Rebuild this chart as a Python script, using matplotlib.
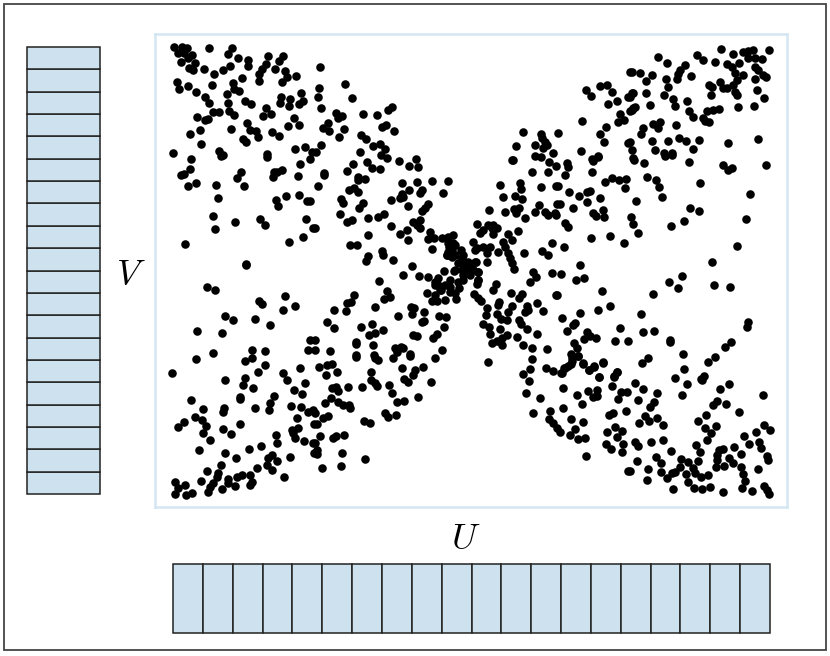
import matplotlib
matplotlib.use('Agg')
import matplotlib.pyplot as plt
from matplotlib.patches import Rectangle
import numpy as np

plt.rcParams['mathtext.fontset'] = 'cm'

# points read patch by patch off the picture, at 3x, each with its own origin
top_left = [(58,36),(80,36),(97,38),(68,55),(88,55),(110,60),(78,80),(100,70),(120,85),(102,100),(115,105),(147,101),(163,39),(232,39),(220,57),(249,69),(278,76),(280,92),(226,92),(205,104),(178,118),(260,129),(339,63),(384,64),(372,78),(333,88),(320,102),(360,102),(391,108),(313,118),(311,138),(423,122),(395,127),(381,141),(66,142),(73,163),(100,153),(124,171),(170,150),(233,145),(238,163),(252,168),(215,177),(149,185),(161,203),(219,203),(270,197),(289,207),(378,186),(405,191),(439,175),(375,205),(403,212),(433,208),(445,198),(175,232),(193,232),(221,229),(238,240),(332,220),(348,238),(323,243),(127,247),(150,255),(160,253),(416,248),(277,263),(400,273),(431,271),(134,285),(105,297),(229,281),(285,285),(304,288),(308,305),(352,291),(372,304),(264,313),(272,321),(138,328),(54,353),(193,349),(205,360),(336,358),(419,341),(450,337),(470,350)]
top_mid_left = [(90,27),(11,39),(8,66),(111,68),(19,100),(63,113),(80,123),(70,130),(145,116),(185,121),(230,95),(220,105),(40,145),(25,158),(43,167),(88,163),(72,187),(200,156),(214,150),(237,169),(138,181),(153,191),(18,211),(2,232),(174,214),(195,208),(210,222),(135,230),(198,240),(217,249),(251,257),(302,252),(157,261),(115,268),(283,272),(309,275),(170,280),(196,283),(97,288),(28,295),(28,300),(130,305),(150,312),(130,315),(10,333),(260,325),(305,320),(351,319),(398,317),(102,344),(118,338),(128,350),(282,344),(322,345),(316,355),(262,358),(383,354)]
mid_left = [(107,11),(199,3),(335,5),(435,26),(466,12),(104,41),(78,59),(86,57),(258,50),(245,68),(380,44),(367,52),(358,52),(354,65),(428,64),(98,92),(122,85),(184,90),(268,92),(188,130),(392,124),(364,135),(369,153),(431,119),(456,137),(465,138),(174,182),(240,201),(315,193),(330,210),(453,191),(475,219),(179,223),(444,246),(401,261),(91,267),(274,328)]
centre = [(78,12),(83,24),(227,14),(255,8),(265,6),(143,25),(132,38),(280,34),(340,28),(330,38),(320,48),(74,57),(160,68),(190,66),(208,57),(110,76),(96,82),(522,46),(569,50),(598,42),(612,40),(603,55),(631,70),(660,50),(690,52),(700,60),(720,55),(672,30),(600,2),(621,12),(228,93),(295,82),(315,75),(305,90),(314,98),(275,104),(254,116),(278,136),(158,120),(106,150),(126,150),(486,87),(535,90),(520,90),(505,105),(530,100),(545,100),(495,115),(535,118),(608,108),(344,110),(340,132),(357,130),(380,130),(398,125),(413,120),(413,145),(473,140),(578,118),(590,135),(565,140),(505,155),(485,160),(525,155),(570,155),(550,170),(403,155),(352,163),(400,172),(395,180),(410,185),(438,165),(445,180),(480,165),(515,175),(628,175),(682,167),(700,180),(710,143),(160,182),(153,197),(202,167),(205,180),(233,196),(580,175),(585,190),(590,205),(598,222),(515,200),(435,200),(480,200),(450,210),(440,225),(460,225),(475,225),(490,230),(291,212),(265,240),(312,244),(340,245),(370,248),(387,228),(417,228),(655,232),(662,246),(645,262),(710,234),(192,258),(360,262),(370,270),(378,285),(445,255),(430,260),(405,275),(432,280),(420,295),(490,255),(485,268),(543,268),(533,285),(216,287),(225,305),(206,312),(335,293),(360,300),(350,318),(365,318),(390,315),(423,312),(405,290),(117,300),(108,322),(95,325),(92,348),(56,344),(476,298),(490,310),(498,318),(588,294),(620,296),(612,310),(722,300),(553,320),(550,330),(590,332),(637,332),(667,324),(630,350),(640,345),(685,348),(180,336),(288,335),(297,340),(290,358),(328,352),(248,364),(372,363),(393,367),(516,340),(512,360),(545,358),(580,352),(558,372),(575,375),(612,376),(618,388),(36,382),(58,400),(172,387),(138,396),(328,378),(320,380),(388,395),(505,388),(522,395),(555,403),(635,402),(203,406),(180,413),(163,420),(665,416),(525,417),(295,421),(305,424),(365,418),(355,430),(606,427),(122,440),(122,447),(175,450),(575,420),(560,430),(545,437),(530,445),(560,450),(625,450),(650,460),(695,463),(258,455),(240,460),(245,470),(265,460),(46,467),(380,465),(122,480),(285,478),(176,480),(0,435),(0,465),(0,98)]
top_mid_right = [(466,95),(332,150),(348,168),(376,138),(397,135),(412,155),(425,183),(400,191),(470,158),(460,170),(475,205),(465,212),(434,222),(448,240),(430,245),(320,242),(393,260),(375,282),(143,276),(197,281),(248,278),(200,295),(210,305),(388,306),(460,308),(124,319),(180,315),(215,315),(205,325),(235,340),(318,332),(470,330),(370,348),(180,348),(198,352),(350,358),(115,360),(475,355)]
top_right = [(272,43),(308,58),(338,50),(355,47),(370,45),(416,46),(200,59),(220,75),(255,80),(84,66),(111,84),(165,89),(290,87),(327,85),(355,70),(375,70),(395,73),(375,95),(305,97),(150,105),(143,118),(385,105),(5,110),(30,113),(65,120),(48,137),(182,124),(107,133),(140,132),(315,115),(338,120),(400,120),(408,127),(375,132),(320,135),(270,140),(113,156),(237,150),(245,155),(310,150),(290,160),(280,160),(382,165),(8,175),(47,173),(102,179),(315,170),(320,180),(243,180),(0,185),(130,193),(172,197),(401,190),(135,213),(60,210),(15,217),(5,225),(324,216),(371,214),(268,222),(250,225),(230,228),(178,227),(188,245),(220,250),(225,258),(238,262),(90,260),(70,267),(85,278),(138,269),(40,278),(32,298),(65,318),(148,309),(167,317),(115,319),(208,315),(295,325),(383,312),(0,322),(75,345),(190,342),(103,355),(125,355)]
mid_right = [(35,25),(38,37),(3,33),(115,17),(130,5),(237,14),(268,24),(402,22),(330,2),(350,0),(505,31),(518,45),(530,38),(633,29),(112,52),(150,82),(170,70),(193,74),(214,71),(277,67),(304,76),(313,96),(434,83),(10,92),(42,110),(72,122),(97,112),(105,108),(210,100),(135,128),(321,125),(585,117),(97,142),(243,139),(5,148),(15,146),(53,160),(143,164),(115,175),(122,184),(146,185),(405,159),(431,168),(3,180),(228,187),(235,207),(572,193),(388,199),(348,214),(30,205),(38,216),(250,235),(164,244),(107,250),(207,265),(547,272),(28,277),(472,322),(74,330),(17,356),(64,374),(87,369),(382,362),(342,380),(476,390),(368,400),(526,397),(141,408),(293,416),(7,421),(128,464),(166,452),(259,477),(76,475),(22,490),(60,505),(55,510),(579,500),(575,515),(37,528),(196,520),(265,530),(296,527),(95,530),(105,543),(122,550),(88,552),(181,558),(218,557),(345,555),(344,562),(528,562),(511,577),(58,565),(66,580),(48,598),(70,602),(385,596),(481,607),(459,622),(278,610),(260,624),(85,626),(50,618),(40,632),(28,640),(118,633),(102,644),(144,623),(185,650),(177,663),(386,643),(18,655),(132,665),(361,668),(448,662),(438,672)]
bottom_mid = [(122,5),(180,8),(188,15),(235,8),(285,3),(360,10),(520,20),(650,13),(770,8),(790,3),(13,37),(35,30),(52,27),(65,52),(33,60),(167,50),(262,40),(300,45),(295,60),(325,35),(645,41),(625,58),(642,78),(693,38),(713,48),(740,55),(750,38),(768,28),(805,25),(865,22),(838,35),(822,44),(905,50),(897,65),(851,67),(168,75),(180,85),(185,92),(268,72),(278,80),(348,82),(222,89),(52,100),(62,95),(68,108),(98,96),(142,95),(891,92),(232,113),(633,114),(743,99),(675,129),(785,119),(820,107),(847,105),(835,125),(845,122),(918,110),(935,112),(908,133),(48,130),(30,143),(68,140),(85,150),(103,150),(105,158),(245,140),(268,137),(310,127),(800,148),(745,158),(705,167),(932,167),(655,175),(895,173),(881,179),(0,175),(210,175),(220,187),(243,180),(25,190),(40,184),(147,198),(166,204),(703,193),(715,205),(725,220),(735,230),(769,192),(803,200),(5,208),(900,215),(920,228),(877,231),(780,222),(765,240),(790,252),(811,248),(905,246),(15,243),(55,250),(62,244),(87,239),(0,265),(872,267),(925,268),(888,283),(922,291),(7,285),(7,298),(82,293),(814,302),(149,312),(78,332),(22,339),(938,347)]
bottom_left = [(209,0),(263,15),(295,23),(395,0),(450,10),(417,30),(440,42),(255,50),(255,57),(357,47),(109,61),(344,70),(143,88),(208,85),(203,95),(301,85),(342,90),(408,78),(437,80),(460,95),(475,90),(120,110),(140,120),(88,126),(68,141),(152,138),(256,131),(425,114),(478,132),(204,146),(145,160),(227,162),(410,150),(428,145),(415,160),(362,166),(165,180),(420,175),(448,182),(475,188),(367,190),(132,211),(282,206),(319,199),(211,220),(243,234),(350,225),(338,235),(365,242),(406,230),(478,220),(197,255),(155,272),(335,255),(350,270),(307,265),(190,280),(185,292),(262,285),(285,285),(245,292),(138,303),(218,297),(388,290),(60,305),(290,305),(285,315),(175,310),(165,320),(220,310),(240,317),(90,315),(70,325),(200,328),(158,335),(110,338),(60,342),(92,345)]
bottom_right = [(170,11),(215,0),(297,12),(15,8),(38,27),(82,39),(269,28),(155,45),(398,44),(23,60),(262,62),(250,75),(288,72),(73,67),(60,80),(326,96),(45,107),(57,122),(80,113),(228,105),(204,122),(28,130),(98,134),(258,137),(403,135),(226,144),(242,160),(420,150),(378,156),(342,169),(232,180),(15,185),(25,198),(62,185),(100,181),(357,191),(388,186),(392,203),(198,195),(210,215),(122,212),(312,200),(280,207),(268,210),(262,225),(332,222),(410,228),(414,240),(77,231),(22,244),(153,237),(175,245),(203,242),(298,234),(308,250),(93,250),(262,240),(258,262),(282,258),(333,262),(150,260),(135,275),(125,280),(190,265),(55,267),(385,268),(0,272),(92,277),(168,283),(195,280),(340,282),(233,285),(212,290),(110,295),(345,302),(50,300),(175,305),(402,318),(240,320),(335,325),(130,327),(193,323),(217,328),(365,332),(278,335),(410,330),(418,343)]
# these were read at 1x
extra_left = [(246,265),(207,287),(215,290),(259,301),(262,304),(285,296),(283,310),(295,306),(225,316),(233,320),(255,319),(270,325),(197,331),(222,333),(196,359),(213,353),(245,361),(252,350),(265,351),(252,358),(265,365),(172,373),(245,378),(258,372),(310,340),(308,350),(283,373),(300,368)]
extra_top = [(320,67),(512,160),(500,185),(532,172),(548,172),(520,183),(541,187),(556,186),(503,197),(521,189),(565,175),(549,162)]
# the dense knot in the middle
extra_knot = [(462,258),(468,262),(472,268),(465,268),(458,263),(476,262),(470,275),(463,275),(455,270),(478,272),(452,250),(448,243),(455,245),(447,255),(455,255),(478,280),(445,285),(440,290),(450,280),(435,285)]

patches = [(top_left, 155, 35), (top_mid_left, 315, 75), (mid_left, 155, 155),
           (centre, 315, 195), (top_mid_right, 475, 40), (top_right, 630, 35),
           (mid_right, 555, 155), (bottom_mid, 315, 355), (bottom_left, 155, 380),
           (bottom_right, 630, 380)]

n_cells = 20
W, H = 830, 656


def px_axes(left, top, right, bottom):
    return fig.add_axes([left / W, 1 - bottom / H, (right - left) / W, (bottom - top) / H])


fig = plt.figure(figsize=(8.3, 6.56), dpi=100)
fig.add_artist(Rectangle((4 / W, 1 - 650 / H), 822 / W, 646 / H, transform=fig.transFigure,
                         facecolor='none', edgecolor='#444444', linewidth=1.3))

ax = px_axes(155, 34, 787, 507)
for pts, x0, y0 in patches:
    pts = np.array(pts)
    ax.scatter(x0 + pts[:, 0] / 3, y0 + pts[:, 1] / 3, s=38, c='black', linewidths=0)
for pts in (extra_left, extra_top, extra_knot):
    pts = np.array(pts)
    ax.scatter(pts[:, 0], pts[:, 1], s=38, c='black', linewidths=0)
ax.set_xlim(155, 787)
ax.set_ylim(507, 34)
ax.set_xticks([])
ax.set_yticks([])
for s in ax.spines.values():
    s.set_color('#d3e6f2')
    s.set_linewidth(1.8)

# marginal boxes
ax_v = px_axes(27, 47, 100, 494)
ax_v.barh(np.arange(n_cells), 1, height=1, align='edge', color='#cde1ee', edgecolor='#222222',
          linewidth=1.1, clip_on=False)
ax_v.set_xlim(0, 1)
ax_v.set_ylim(0, n_cells)
ax_v.axis('off')

ax_u = px_axes(173, 564, 770, 633)
ax_u.bar(np.arange(n_cells), 1, width=1, align='edge', color='#cde1ee', edgecolor='#222222',
         linewidth=1.1, clip_on=False)
ax_u.set_xlim(0, n_cells)
ax_u.set_ylim(0, 1)
ax_u.axis('off')

fig.text(466 / W, 1 - 539 / H, r'$U$', fontsize=26, ha='center', va='center')
fig.text(131 / W, 1 - 275 / H, r'$V$', fontsize=26, ha='center', va='center')

fig.savefig('out.png', dpi=100)
